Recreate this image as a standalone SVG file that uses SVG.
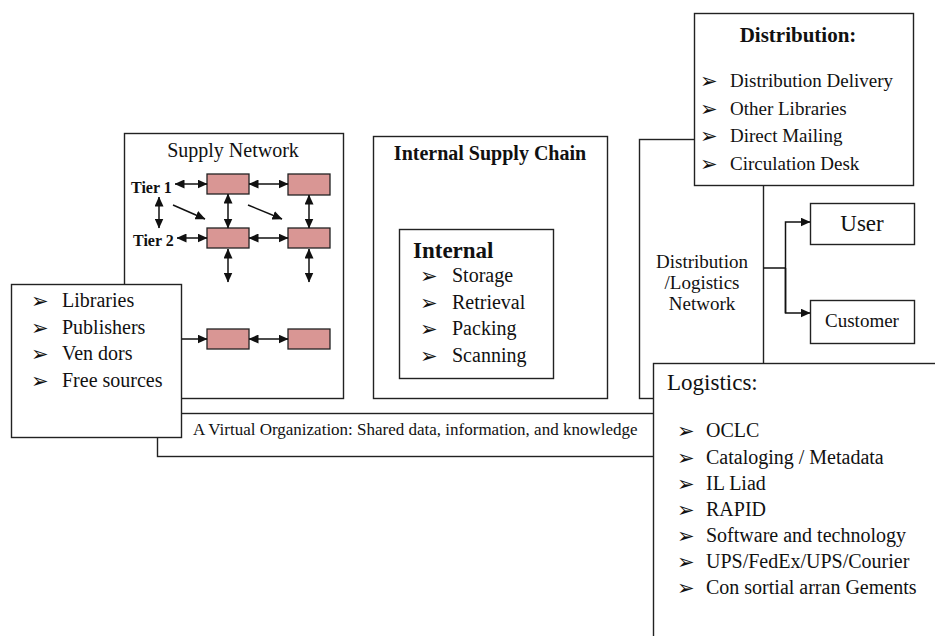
<svg xmlns="http://www.w3.org/2000/svg" width="935" height="636" viewBox="0 0 935 636">
<defs>
<style>
.box{fill:#fff;stroke:#222;stroke-width:1.4}
.pink{fill:#D99694;stroke:#222;stroke-width:1.3}
.ln{fill:none;stroke:#111;stroke-width:1.5}
.t{font-family:"Liberation Serif","Times New Roman",serif;fill:#111}
.b{font-weight:bold}
.bul{font-family:"DejaVu Sans",sans-serif;font-size:21px;fill:#111}
</style>
<marker id="ah" markerUnits="userSpaceOnUse" markerWidth="10" markerHeight="9" refX="9.5" refY="4.5" orient="auto-start-reverse">
<path d="M0,0 L10,4.5 L0,9 z" fill="#111"/>
</marker>
</defs>
<rect width="935" height="636" fill="#fff"/>

<g id="virtual-org">
<rect class="box" x="157.5" y="413.5" width="520" height="43"/>
<text class="t" x="193" y="435" font-size="17">A Virtual Organization: Shared data, information, and knowledge</text>
</g>

<g id="supply-network">
<rect class="box" x="124.5" y="133.5" width="219" height="265"/>
<text class="t" x="233" y="157" font-size="20" text-anchor="middle">Supply Network</text>
<text class="t b" x="131" y="193" font-size="16">Tier 1</text>
<text class="t b" x="133" y="246" font-size="16">Tier 2</text>
<rect class="pink" x="207" y="174" width="42" height="20"/>
<rect class="pink" x="288" y="174" width="42" height="21"/>
<rect class="pink" x="207" y="228" width="42" height="20"/>
<rect class="pink" x="288" y="228" width="42" height="20"/>
<rect class="pink" x="207" y="329" width="42" height="20"/>
<rect class="pink" x="288" y="329" width="42" height="20"/>
</g>

<g id="sources">
<rect class="box" x="11.5" y="284.5" width="170" height="153"/>
<text class="bul" x="31" y="308">➢</text>
<text class="bul" x="31" y="335">➢</text>
<text class="bul" x="31" y="361">➢</text>
<text class="bul" x="31" y="388">➢</text>
<text class="t" x="62" y="307" font-size="20">Libraries</text>
<text class="t" x="62" y="334" font-size="20">Publishers</text>
<text class="t" x="62" y="360" font-size="20">Ven dors</text>
<text class="t" x="62" y="387" font-size="20">Free sources</text>
</g>

<g id="internal-supply-chain">
<rect class="box" x="373.5" y="136.5" width="234" height="262"/>
<text class="t b" x="490" y="160" font-size="20" text-anchor="middle">Internal Supply Chain</text>
</g>

<g id="internal">
<rect class="box" x="399.5" y="229.5" width="154" height="149"/>
<text class="t b" x="413" y="258" font-size="23">Internal</text>
<text class="bul" x="420" y="283">➢</text>
<text class="bul" x="420" y="310">➢</text>
<text class="bul" x="420" y="336">➢</text>
<text class="bul" x="420" y="363">➢</text>
<text class="t" x="452" y="282" font-size="20">Storage</text>
<text class="t" x="452" y="309" font-size="20">Retrieval</text>
<text class="t" x="452" y="335" font-size="20">Packing</text>
<text class="t" x="452" y="362" font-size="20">Scanning</text>
</g>

<g id="dist-logistics-network">
<rect class="box" x="639.5" y="139.5" width="124" height="259"/>
<text class="t" x="702" y="268" font-size="19" text-anchor="middle">Distribution</text>
<text class="t" x="702" y="289" font-size="19" text-anchor="middle">/Logistics</text>
<text class="t" x="702" y="310" font-size="19" text-anchor="middle">Network</text>
</g>

<g id="distribution">
<rect class="box" x="694.5" y="13.5" width="219" height="172"/>
<text class="t b" x="798" y="42" font-size="21" text-anchor="middle">Distribution:</text>
<text class="bul" x="700" y="88">➢</text>
<text class="bul" x="700" y="116">➢</text>
<text class="bul" x="700" y="143">➢</text>
<text class="bul" x="700" y="171">➢</text>
<text class="t" x="730" y="87" font-size="19">Distribution Delivery</text>
<text class="t" x="730" y="115" font-size="19">Other Libraries</text>
<text class="t" x="730" y="142" font-size="19">Direct Mailing</text>
<text class="t" x="730" y="170" font-size="19">Circulation Desk</text>
</g>

<g id="user">
<rect class="box" x="810.5" y="203.5" width="104" height="41"/>
<text class="t" x="862" y="231" font-size="23" text-anchor="middle">User</text>
</g>

<g id="customer">
<rect class="box" x="810.5" y="300.5" width="104" height="43"/>
<text class="t" x="862" y="327" font-size="19" text-anchor="middle">Customer</text>
</g>

<g id="logistics">
<rect class="box" x="653.5" y="363.5" width="290" height="290"/>
<text class="t" x="667" y="390" font-size="23">Logistics:</text>
<text class="bul" x="677" y="438">➢</text>
<text class="bul" x="677" y="465">➢</text>
<text class="bul" x="677" y="491">➢</text>
<text class="bul" x="677" y="517">➢</text>
<text class="bul" x="677" y="543">➢</text>
<text class="bul" x="677" y="569">➢</text>
<text class="bul" x="677" y="595">➢</text>
<text class="t" x="706" y="437" font-size="20">OCLC</text>
<text class="t" x="706" y="464" font-size="20">Cataloging / Metadata</text>
<text class="t" x="706" y="490" font-size="20">IL Liad</text>
<text class="t" x="706" y="516" font-size="20">RAPID</text>
<text class="t" x="706" y="542" font-size="20">Software and technology</text>
<text class="t" x="706" y="568" font-size="20">UPS/FedEx/UPS/Courier</text>
<text class="t" x="706" y="594" font-size="20">Con sortial arran Gements</text>
</g>

<g id="connectors">
<line class="ln" x1="175" y1="184" x2="207" y2="184" marker-start="url(#ah)" marker-end="url(#ah)"/>
<line class="ln" x1="249" y1="184" x2="288" y2="184" marker-start="url(#ah)" marker-end="url(#ah)"/>
<line class="ln" x1="159" y1="197" x2="159" y2="228" marker-start="url(#ah)" marker-end="url(#ah)"/>
<line class="ln" x1="228" y1="194" x2="228" y2="228" marker-start="url(#ah)" marker-end="url(#ah)"/>
<line class="ln" x1="309" y1="195" x2="309" y2="228" marker-start="url(#ah)" marker-end="url(#ah)"/>
<line class="ln" x1="173" y1="205" x2="205" y2="219" marker-end="url(#ah)"/>
<line class="ln" x1="248" y1="205" x2="282" y2="219" marker-end="url(#ah)"/>
<line class="ln" x1="177" y1="238" x2="207" y2="238" marker-start="url(#ah)" marker-end="url(#ah)"/>
<line class="ln" x1="249" y1="238" x2="288" y2="238" marker-start="url(#ah)" marker-end="url(#ah)"/>
<line class="ln" x1="228" y1="249" x2="228" y2="282" marker-start="url(#ah)" marker-end="url(#ah)"/>
<line class="ln" x1="309" y1="249" x2="309" y2="282" marker-start="url(#ah)" marker-end="url(#ah)"/>
<line class="ln" x1="182" y1="339" x2="207" y2="339" marker-end="url(#ah)"/>
<line class="ln" x1="249" y1="339" x2="288" y2="339" marker-start="url(#ah)" marker-end="url(#ah)"/>
<polyline class="ln" points="763.5,268 785.5,268"/>
<polyline class="ln" points="785.5,313 785.5,222 810,222" marker-end="url(#ah)"/>
<polyline class="ln" points="785.5,268 785.5,313 810,313" marker-end="url(#ah)"/>
</g>
</svg>
